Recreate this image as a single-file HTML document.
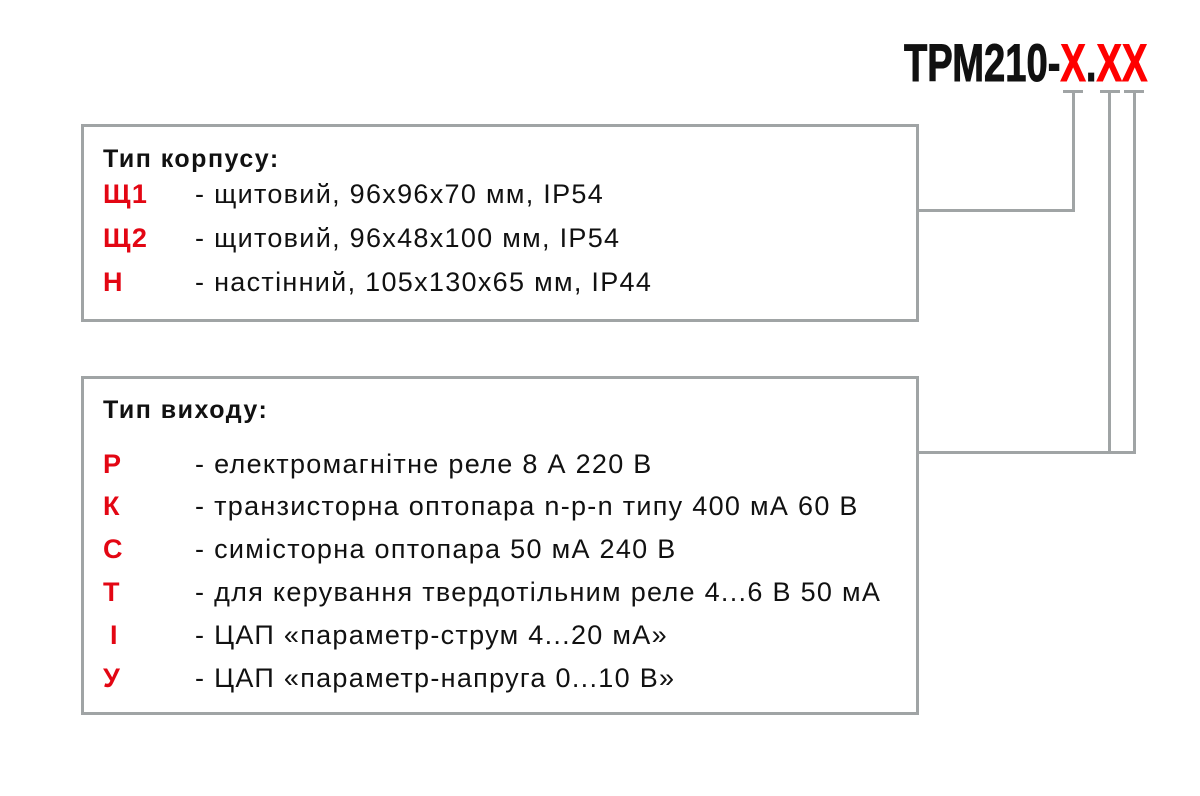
<!DOCTYPE html>
<html><head><meta charset="utf-8"><style>
body{margin:0;width:1200px;height:796px;background:#fff;position:relative;overflow:hidden;font-family:"Liberation Sans",sans-serif}
.box{position:absolute;border:3px solid #a0a4a5;box-sizing:border-box}
.t{position:absolute;font-size:27px;color:#111;white-space:nowrap;line-height:1;letter-spacing:1.3px}
.h{font-weight:bold;font-size:25px;letter-spacing:1.5px}
.r{color:#e30613;font-weight:bold}
.l{position:absolute;background:#a0a4a5}
</style></head><body>
<div style="position:absolute;left:904px;top:37px;font-family:'Liberation Sans',sans-serif;font-weight:bold;font-size:53px;line-height:1;white-space:nowrap;transform:scaleX(0.72);transform-origin:left top;-webkit-text-stroke:1px currentColor"><span style="color:#111">ТРМ210-</span><span style="color:#ff0000">Х</span><span style="color:#111">.</span><span style="color:#ff0000">ХХ</span></div>

<div class="box" style="left:81px;top:124px;width:838px;height:198px"></div>
<div class="box" style="left:81px;top:376px;width:838px;height:339px"></div>

<div class="l" style="left:1063px;top:90px;width:20px;height:3px"></div>
<div class="l" style="left:1100px;top:90px;width:20px;height:3px"></div>
<div class="l" style="left:1124px;top:90px;width:20px;height:3px"></div>
<div class="l" style="left:1072px;top:90px;width:3px;height:122px"></div>
<div class="l" style="left:918px;top:209px;width:157px;height:3px"></div>
<div class="l" style="left:1108px;top:90px;width:3px;height:364px"></div>
<div class="l" style="left:1133px;top:90px;width:3px;height:364px"></div>
<div class="l" style="left:918px;top:451px;width:218px;height:3px"></div>

<div class="t h" style="left:103px;top:147px">Тип корпусу:</div>
<div class="t r" style="left:103px;top:181px">Щ1</div><div class="t" style="left:195px;top:181px">- щитовий, 96х96х70 мм, IP54</div>
<div class="t r" style="left:103px;top:225px">Щ2</div><div class="t" style="left:195px;top:225px">- щитовий, 96х48х100 мм, IP54</div>
<div class="t r" style="left:103px;top:269px">Н</div><div class="t" style="left:195px;top:269px">- настінний, 105х130х65 мм, IP44</div>

<div class="t h" style="left:103px;top:398px">Тип виходу:</div>
<div class="t r" style="left:103px;top:451px">Р</div><div class="t" style="left:195px;top:451px">- електромагнітне реле 8 А 220 В</div>
<div class="t r" style="left:103px;top:493px">К</div><div class="t" style="left:195px;top:493px">- транзисторна оптопара n-p-n типу 400 мА 60 В</div>
<div class="t r" style="left:103px;top:536px">С</div><div class="t" style="left:195px;top:536px">- симісторна оптопара 50 мА 240 В</div>
<div class="t r" style="left:103px;top:579px">Т</div><div class="t" style="left:195px;top:579px">- для керування твердотільним реле 4...6 В 50 мА</div>
<div class="t r" style="left:110px;top:622px">І</div><div class="t" style="left:195px;top:622px">- ЦАП «параметр-струм 4...20 мА»</div>
<div class="t r" style="left:103px;top:665px">У</div><div class="t" style="left:195px;top:665px">- ЦАП «параметр-напруга 0...10 В»</div>
</body></html>
